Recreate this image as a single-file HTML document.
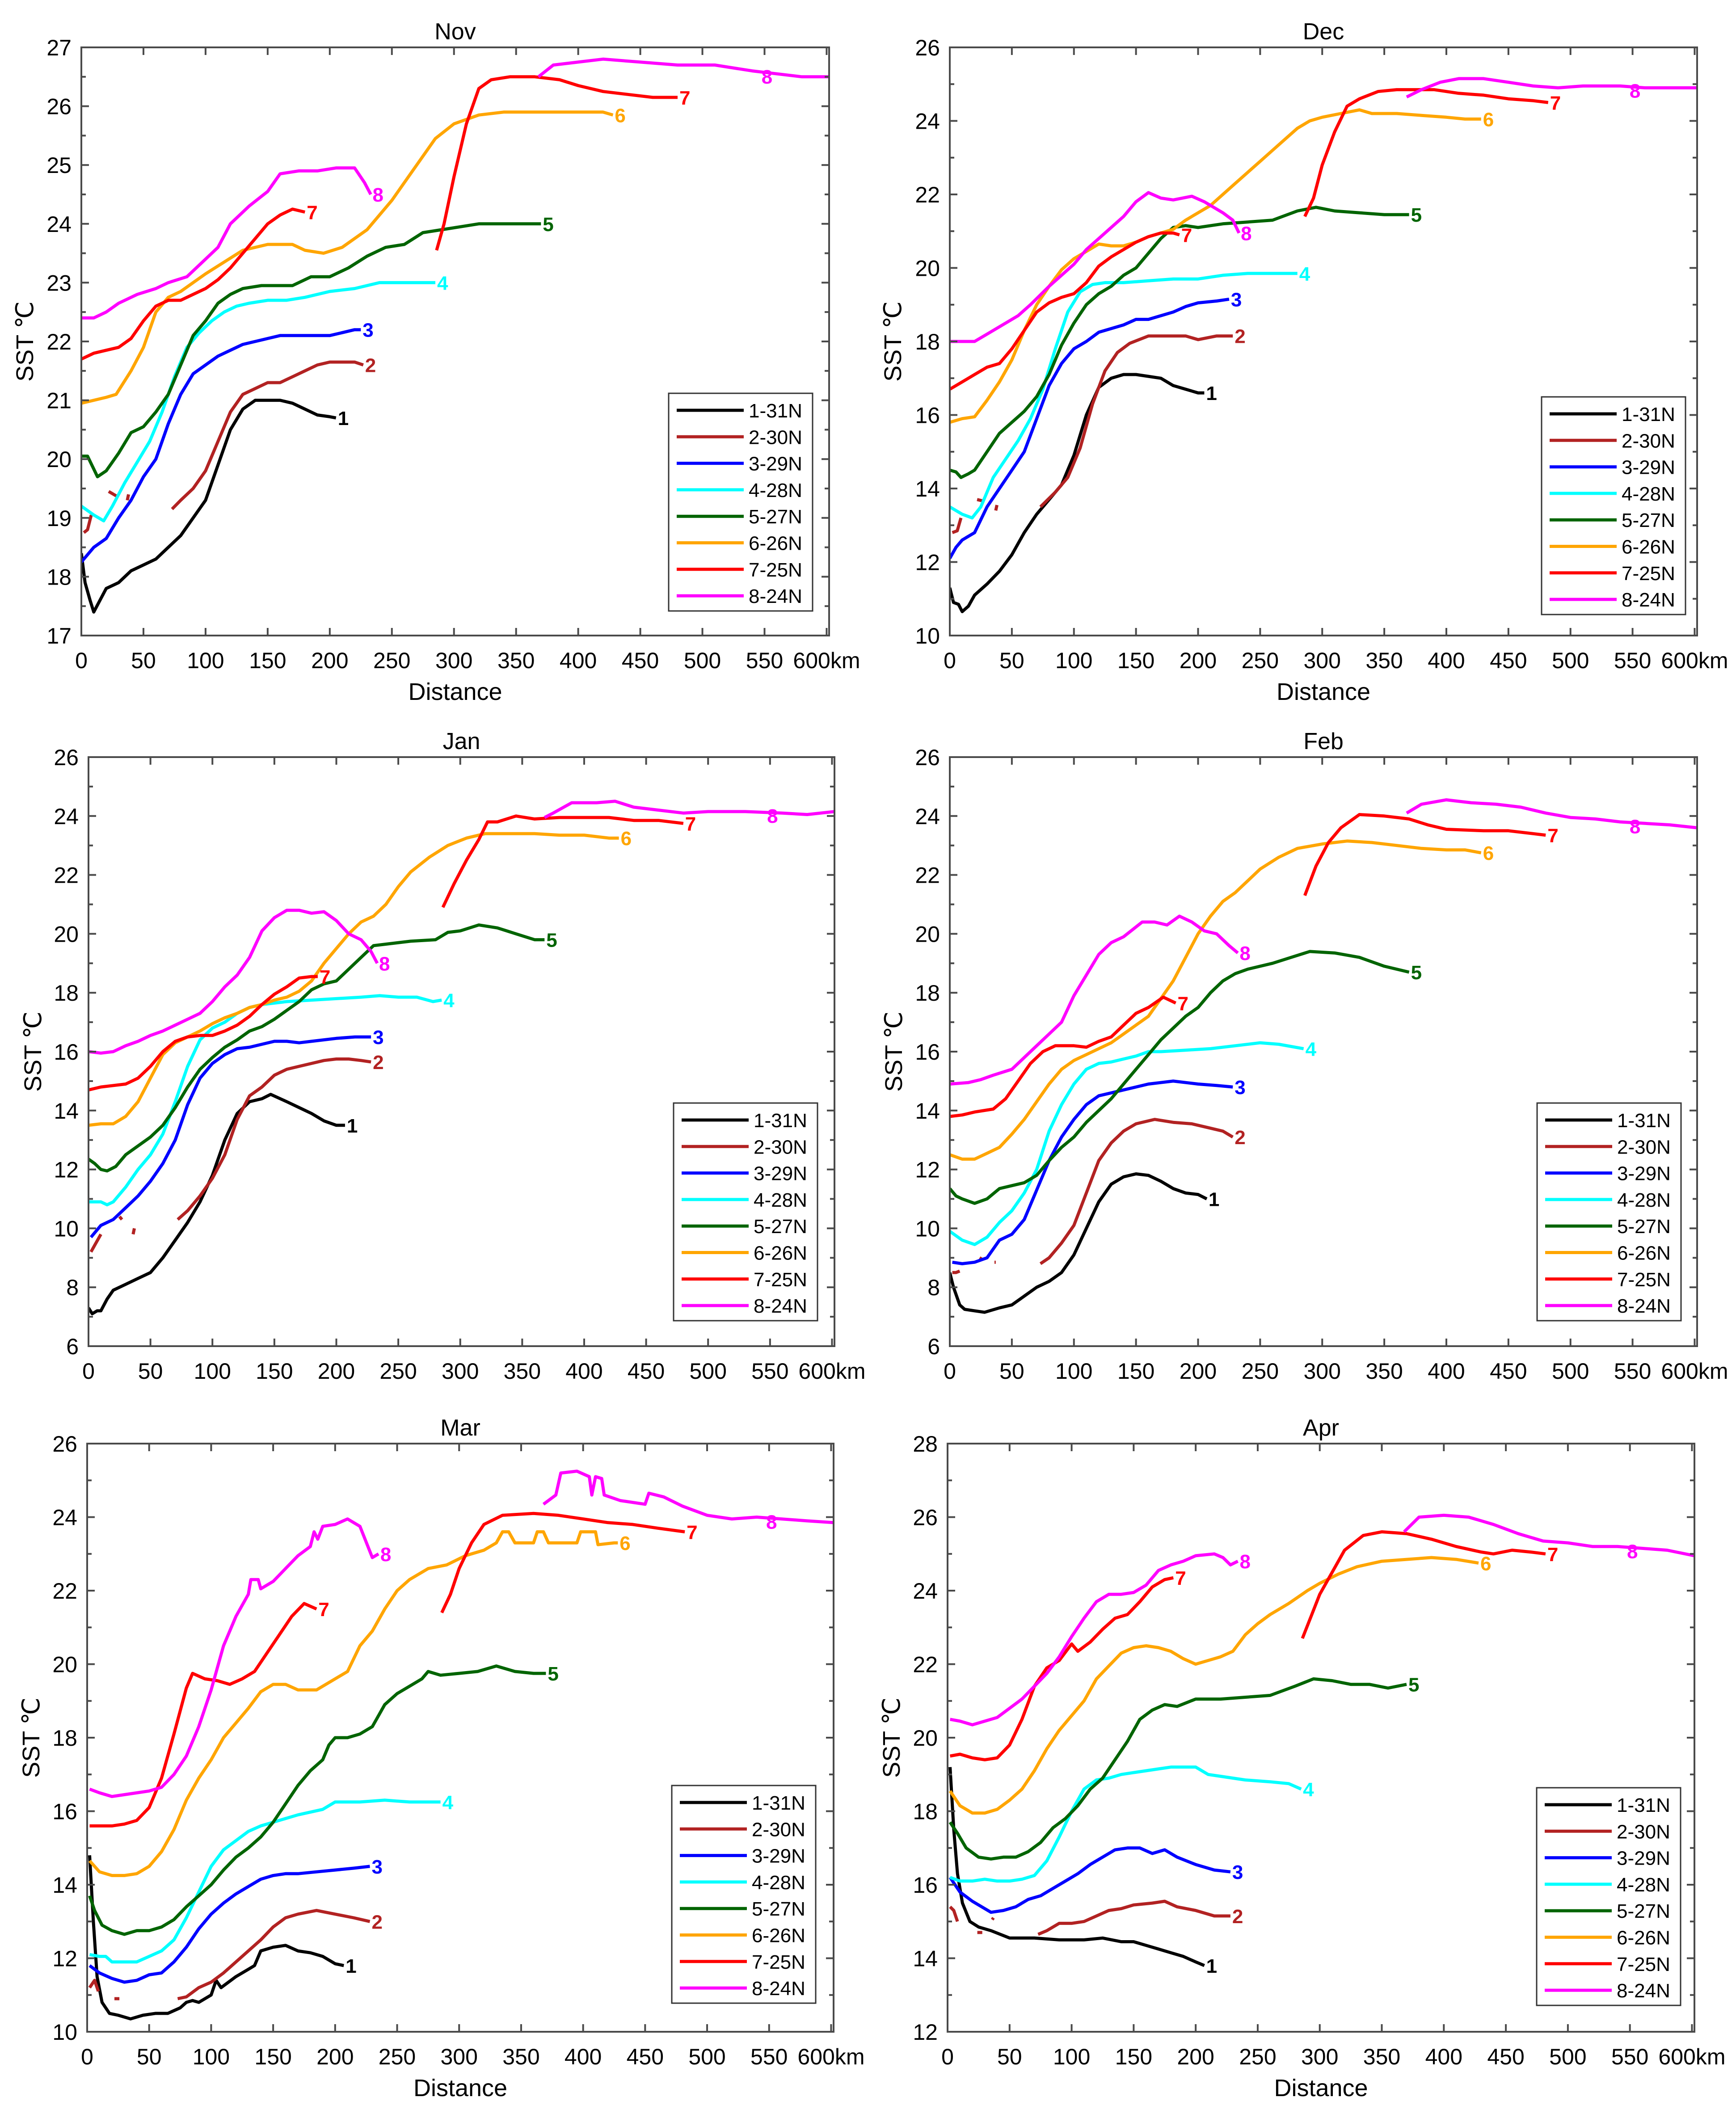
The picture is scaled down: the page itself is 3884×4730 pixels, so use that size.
<!DOCTYPE html>
<html>
<head>
<meta charset="utf-8">
<style>
html,body{margin:0;padding:0;background:#fff;}
svg{display:block;}
text{font-family:"Liberation Sans",Arial,sans-serif;}
</style>
</head>
<body>
<svg id="fig" xmlns="http://www.w3.org/2000/svg" width="3884" height="4730" viewBox="0 0 3884 4730"></svg>
<script>
// ---------- data (distance km, SST degC); null = gap ----------
const novS1=[[0,18.4],[3,17.9],[7,17.6],[10,17.4],[15,17.6],[20,17.8],[30,17.9],[40,18.1],[50,18.2],[60,18.3],[70,18.5],[80,18.7],[90,19.0],[100,19.3],[110,19.9],[120,20.5],[130,20.85],[140,21.0],[150,21.0],[160,21.0],[170,20.95],[180,20.85],[190,20.75],[200,20.72],[205,20.7]];
const novS2=[[2,18.75],[5,18.8],[8,19.05],null,[22,19.45],[30,19.35],null,[37,19.3],[38,19.4],null,[73,19.15],[80,19.3],[90,19.5],[100,19.8],[110,20.3],[120,20.8],[130,21.1],[140,21.2],[150,21.3],[160,21.3],[170,21.4],[180,21.5],[190,21.6],[200,21.65],[210,21.65],[220,21.65],[227,21.6]];
const novS3=[[0,18.25],[10,18.5],[20,18.65],[30,19.0],[40,19.3],[50,19.7],[60,20.0],[70,20.6],[80,21.1],[90,21.45],[100,21.6],[110,21.75],[120,21.85],[130,21.95],[140,22.0],[150,22.05],[160,22.1],[170,22.1],[180,22.1],[200,22.1],[210,22.15],[220,22.2],[225,22.2]];
const novS4=[[0,19.2],[10,19.05],[18,18.95],[25,19.2],[35,19.6],[45,19.95],[55,20.3],[65,20.8],[75,21.4],[85,21.9],[95,22.15],[105,22.35],[115,22.5],[125,22.6],[135,22.65],[150,22.7],[165,22.7],[180,22.75],[200,22.85],[220,22.9],[240,23.0],[260,23.0],[280,23.0],[285,23.0]];
const novS5=[[0,20.05],[5,20.05],[13,19.7],[20,19.8],[30,20.1],[40,20.45],[50,20.55],[60,20.8],[70,21.1],[80,21.6],[90,22.1],[100,22.35],[110,22.65],[120,22.8],[130,22.9],[145,22.95],[160,22.95],[170,22.95],[185,23.1],[200,23.1],[215,23.25],[230,23.45],[245,23.6],[260,23.65],[275,23.85],[290,23.9],[305,23.95],[320,24.0],[340,24.0],[360,24.0],[370,24.0]];
const novS6=[[0,20.95],[10,21.0],[20,21.05],[28,21.1],[40,21.5],[50,21.9],[60,22.5],[70,22.75],[80,22.85],[90,23.0],[100,23.15],[115,23.35],[130,23.55],[150,23.65],[170,23.65],[180,23.55],[195,23.5],[210,23.6],[230,23.9],[250,24.4],[270,25.0],[285,25.45],[300,25.7],[320,25.85],[340,25.9],[360,25.9],[380,25.9],[400,25.9],[420,25.9],[428,25.85]];
const novS7=[[0,21.7],[10,21.8],[20,21.85],[30,21.9],[40,22.05],[50,22.35],[60,22.6],[70,22.7],[80,22.7],[90,22.8],[100,22.9],[110,23.05],[120,23.25],[130,23.5],[140,23.75],[150,24.0],[160,24.15],[170,24.25],[180,24.2],null,[286,23.55],[292,24.0],[300,24.8],[310,25.7],[320,26.3],[330,26.45],[345,26.5],[365,26.5],[385,26.45],[400,26.35],[420,26.25],[440,26.2],[460,26.15],[480,26.15]];
const novS8=[[0,22.4],[10,22.4],[20,22.5],[30,22.65],[45,22.8],[60,22.9],[70,23.0],[85,23.1],[95,23.3],[110,23.6],[120,24.0],[135,24.3],[150,24.55],[160,24.85],[175,24.9],[190,24.9],[205,24.95],[220,24.95],[228,24.7],[233,24.5],null,[368,26.5],[380,26.7],[400,26.75],[420,26.8],[450,26.75],[480,26.7],[510,26.7],[540,26.6],[560,26.55],[580,26.5],[602,26.5]];

const decS1=[[0,11.3],[3,10.9],[7,10.85],[10,10.65],[15,10.8],[20,11.1],[30,11.4],[40,11.75],[50,12.2],[60,12.8],[70,13.3],[80,13.7],[90,14.1],[100,14.9],[110,16.0],[120,16.75],[130,17.0],[140,17.1],[150,17.1],[160,17.05],[170,17.0],[180,16.8],[190,16.7],[200,16.6],[205,16.6]];
const decS2=[[2,12.8],[6,12.85],[9,13.2],null,[22,13.7],[28,13.65],null,[37,13.4],[38,13.55],null,[73,13.5],[85,13.9],[95,14.3],[105,15.1],[115,16.3],[125,17.2],[135,17.7],[145,17.95],[160,18.15],[175,18.15],[190,18.15],[200,18.05],[215,18.15],[228,18.15]];
const decS3=[[0,12.1],[5,12.4],[10,12.6],[20,12.8],[30,13.5],[40,14.0],[50,14.5],[60,15.0],[70,15.9],[80,16.8],[90,17.4],[100,17.8],[110,18.0],[120,18.25],[140,18.45],[150,18.6],[160,18.6],[170,18.7],[180,18.8],[190,18.95],[200,19.05],[215,19.1],[225,19.15]];
const decS4=[[0,13.5],[10,13.3],[18,13.2],[25,13.5],[35,14.3],[45,14.8],[55,15.3],[65,15.9],[75,16.7],[85,17.8],[95,18.8],[105,19.35],[115,19.55],[125,19.6],[140,19.6],[160,19.65],[180,19.7],[200,19.7],[220,19.8],[240,19.85],[260,19.85],[280,19.85]];
const decS5=[[0,14.5],[5,14.45],[9,14.3],[15,14.4],[20,14.5],[30,15.0],[40,15.5],[50,15.8],[60,16.1],[70,16.5],[80,17.1],[90,17.9],[100,18.5],[110,19.0],[120,19.3],[130,19.5],[140,19.8],[150,20.0],[160,20.4],[170,20.8],[180,21.1],[190,21.15],[200,21.1],[220,21.2],[240,21.25],[260,21.3],[280,21.55],[295,21.65],[310,21.55],[330,21.5],[350,21.45],[370,21.45]];
const decS6=[[0,15.8],[10,15.9],[20,15.95],[30,16.4],[40,16.9],[50,17.5],[60,18.3],[70,19.0],[80,19.5],[90,19.95],[100,20.25],[110,20.45],[120,20.65],[130,20.6],[140,20.6],[150,20.7],[160,20.85],[170,20.95],[180,21.05],[190,21.3],[200,21.5],[210,21.7],[220,22.0],[230,22.3],[240,22.6],[250,22.9],[260,23.2],[270,23.5],[280,23.8],[290,24.0],[300,24.1],[315,24.2],[330,24.3],[340,24.2],[360,24.2],[380,24.15],[400,24.1],[415,24.05],[428,24.05]];
const decS7=[[0,16.7],[10,16.9],[20,17.1],[30,17.3],[40,17.4],[50,17.8],[60,18.3],[70,18.8],[80,19.05],[90,19.2],[100,19.3],[110,19.6],[120,20.05],[130,20.3],[140,20.5],[150,20.7],[160,20.85],[170,20.95],[180,20.95],[185,20.9],null,[286,21.4],[293,21.9],[300,22.8],[310,23.7],[320,24.4],[330,24.6],[345,24.8],[360,24.85],[375,24.85],[390,24.85],[410,24.75],[430,24.7],[450,24.6],[470,24.55],[482,24.5]];
const decS8=[[0,18.0],[10,18.0],[20,18.0],[30,18.2],[40,18.4],[55,18.7],[65,19.0],[80,19.5],[90,19.8],[100,20.1],[110,20.5],[120,20.8],[130,21.1],[140,21.4],[150,21.8],[160,22.05],[170,21.9],[180,21.85],[195,21.95],[205,21.8],[220,21.5],[228,21.3],[233,20.95],null,[368,24.65],[380,24.85],[395,25.05],[410,25.15],[430,25.15],[450,25.05],[470,24.95],[490,24.9],[510,24.95],[540,24.95],[560,24.9],[580,24.9],[602,24.9]];

const janS1=[[0,7.3],[3,7.1],[7,7.2],[10,7.2],[15,7.6],[20,7.9],[30,8.1],[40,8.3],[50,8.5],[60,9.0],[70,9.6],[80,10.2],[90,10.9],[100,11.8],[110,13.0],[120,13.9],[130,14.3],[140,14.4],[147,14.55],[160,14.3],[170,14.1],[180,13.9],[190,13.65],[200,13.5],[207,13.5]];
const janS2=[[2,9.2],[6,9.5],[10,9.8],null,[25,10.4],[27,10.3],null,[36,9.8],[37,10.0],null,[72,10.3],[80,10.6],[90,11.1],[100,11.7],[110,12.5],[120,13.7],[130,14.5],[140,14.8],[150,15.2],[160,15.4],[170,15.5],[180,15.6],[190,15.7],[200,15.75],[210,15.75],[220,15.7],[228,15.65]];
const janS3=[[2,9.7],[10,10.1],[20,10.3],[30,10.7],[40,11.1],[50,11.6],[60,12.2],[70,13.0],[80,14.2],[90,15.1],[100,15.6],[110,15.9],[120,16.1],[130,16.15],[140,16.25],[150,16.35],[160,16.35],[170,16.3],[180,16.35],[200,16.45],[215,16.5],[228,16.5]];
const janS4=[[0,10.9],[10,10.9],[15,10.8],[20,10.9],[30,11.4],[40,12.0],[50,12.5],[60,13.2],[70,14.3],[80,15.5],[90,16.4],[100,16.8],[110,17.0],[120,17.3],[130,17.5],[140,17.6],[160,17.7],[180,17.75],[200,17.8],[220,17.85],[235,17.9],[250,17.85],[265,17.85],[278,17.7],[285,17.75]];
const janS5=[[0,12.35],[5,12.2],[10,12.0],[15,11.95],[22,12.1],[30,12.5],[40,12.8],[50,13.1],[60,13.5],[70,14.1],[80,14.8],[90,15.4],[100,15.8],[110,16.15],[120,16.4],[130,16.7],[140,16.85],[150,17.1],[160,17.4],[170,17.7],[180,18.1],[190,18.3],[200,18.4],[210,18.8],[220,19.2],[230,19.6],[240,19.65],[260,19.75],[280,19.8],[290,20.05],[300,20.1],[315,20.3],[330,20.2],[345,20.0],[360,19.8],[368,19.8]];
const janS6=[[0,13.5],[10,13.55],[20,13.55],[30,13.8],[40,14.3],[50,15.1],[60,15.9],[70,16.3],[80,16.5],[90,16.7],[100,16.95],[110,17.15],[120,17.3],[130,17.5],[140,17.6],[150,17.75],[160,17.85],[170,18.05],[180,18.4],[190,19.0],[200,19.5],[210,20.0],[220,20.4],[230,20.6],[240,21.0],[250,21.6],[260,22.1],[275,22.6],[290,23.0],[305,23.25],[320,23.4],[340,23.4],[360,23.4],[380,23.35],[400,23.35],[420,23.25],[428,23.25]];
const janS7=[[0,14.7],[10,14.8],[20,14.85],[30,14.9],[40,15.1],[50,15.5],[60,16.0],[70,16.35],[80,16.5],[90,16.55],[100,16.55],[110,16.7],[120,16.9],[130,17.2],[140,17.6],[150,17.95],[160,18.2],[170,18.5],[180,18.55],[185,18.55],null,[286,20.9],[295,21.7],[305,22.5],[315,23.2],[322,23.8],[330,23.8],[345,24.0],[360,23.9],[380,23.95],[400,23.95],[420,23.95],[440,23.85],[460,23.85],[480,23.75]];
const janS8=[[0,16.0],[10,15.95],[20,16.0],[30,16.2],[40,16.35],[50,16.55],[60,16.7],[70,16.9],[80,17.1],[90,17.3],[100,17.7],[110,18.2],[120,18.6],[130,19.2],[140,20.1],[150,20.55],[160,20.8],[170,20.8],[180,20.7],[190,20.75],[200,20.45],[210,20.0],[220,19.8],[228,19.4],[233,19.0],null,[368,23.95],[375,24.1],[390,24.45],[410,24.45],[425,24.5],[440,24.3],[460,24.2],[480,24.1],[500,24.15],[530,24.15],[560,24.1],[580,24.05],[602,24.15]];

const febS1=[[0,8.5],[3,8.0],[8,7.4],[12,7.25],[20,7.2],[28,7.15],[40,7.3],[50,7.4],[60,7.7],[70,8.0],[80,8.2],[90,8.5],[100,9.1],[110,10.0],[120,10.9],[130,11.5],[140,11.75],[150,11.85],[160,11.8],[170,11.6],[180,11.35],[190,11.2],[200,11.15],[207,11.0]];
const febS2=[[2,8.5],[5,8.5],[8,8.55],null,[24,9.0],[26,8.95],null,[36,8.85],[37,8.85],null,[73,8.8],[80,9.0],[90,9.5],[100,10.1],[110,11.2],[120,12.3],[130,12.9],[140,13.3],[150,13.55],[165,13.7],[180,13.6],[195,13.55],[210,13.4],[220,13.3],[228,13.1]];
const febS3=[[2,8.85],[10,8.8],[20,8.85],[30,9.0],[40,9.6],[50,9.8],[60,10.3],[70,11.3],[80,12.3],[90,13.1],[100,13.7],[110,14.2],[120,14.5],[130,14.6],[140,14.7],[150,14.8],[160,14.9],[170,14.95],[180,15.0],[190,14.95],[200,14.9],[215,14.85],[228,14.8]];
const febS4=[[0,9.9],[10,9.6],[20,9.45],[30,9.7],[40,10.2],[50,10.6],[60,11.2],[70,12.0],[80,13.3],[90,14.2],[100,14.9],[110,15.4],[120,15.6],[130,15.65],[140,15.75],[150,15.85],[160,16.0],[170,16.0],[190,16.05],[210,16.1],[230,16.2],[250,16.3],[265,16.25],[285,16.1]];
const febS5=[[0,11.35],[5,11.1],[10,11.0],[20,10.85],[30,11.0],[40,11.35],[50,11.45],[60,11.55],[70,11.8],[80,12.3],[90,12.75],[100,13.1],[110,13.6],[120,14.0],[130,14.4],[140,14.9],[150,15.4],[160,15.9],[170,16.4],[180,16.8],[190,17.2],[200,17.5],[210,18.0],[220,18.4],[230,18.65],[240,18.8],[260,19.0],[275,19.2],[290,19.4],[310,19.35],[330,19.2],[350,18.9],[370,18.7]];
const febS6=[[0,12.5],[10,12.35],[20,12.35],[30,12.55],[40,12.75],[50,13.2],[60,13.7],[70,14.3],[80,14.9],[90,15.4],[100,15.7],[110,15.9],[120,16.1],[130,16.3],[140,16.6],[150,16.9],[160,17.2],[170,17.8],[180,18.4],[190,19.2],[200,20.0],[210,20.6],[220,21.1],[230,21.4],[240,21.8],[250,22.2],[265,22.6],[280,22.9],[300,23.05],[320,23.15],[340,23.1],[360,23.0],[380,22.9],[400,22.85],[415,22.85],[428,22.75]];
const febS7=[[0,13.8],[10,13.85],[20,13.95],[35,14.05],[45,14.4],[55,15.0],[65,15.6],[75,16.0],[85,16.2],[100,16.2],[110,16.15],[120,16.35],[130,16.5],[140,16.9],[150,17.3],[160,17.5],[172,17.85],[182,17.65],null,[286,21.3],[295,22.3],[305,23.1],[315,23.6],[330,24.05],[350,24.0],[370,23.9],[385,23.7],[400,23.55],[430,23.5],[450,23.5],[470,23.4],[480,23.35]];
const febS8=[[0,14.9],[15,14.95],[25,15.05],[35,15.2],[50,15.4],[60,15.8],[70,16.2],[80,16.6],[90,17.0],[100,17.9],[110,18.6],[120,19.3],[130,19.7],[140,19.9],[155,20.4],[165,20.4],[175,20.3],[185,20.6],[195,20.4],[205,20.1],[215,20.0],[225,19.6],[232,19.35],null,[368,24.1],[380,24.4],[400,24.55],[420,24.45],[440,24.4],[460,24.3],[480,24.1],[500,23.95],[520,23.9],[540,23.8],[560,23.75],[580,23.7],[602,23.6]];

const marS1=[[2,14.8],[5,13.0],[8,11.5],[12,10.8],[18,10.5],[25,10.45],[35,10.35],[45,10.45],[55,10.5],[65,10.5],[75,10.65],[80,10.8],[85,10.85],[90,10.8],[100,11.0],[104,11.4],[108,11.2],[120,11.5],[130,11.7],[135,11.8],[140,12.2],[150,12.3],[160,12.35],[170,12.2],[180,12.15],[190,12.05],[200,11.85],[207,11.8]];
const marS2=[[2,11.2],[6,11.4],[9,11.1],null,[22,10.9],[26,10.9],null,[73,10.9],[80,10.95],[90,11.2],[100,11.35],[110,11.6],[120,11.9],[130,12.2],[140,12.5],[150,12.85],[160,13.1],[170,13.2],[185,13.3],[200,13.2],[215,13.1],[228,13.0]];
const marS3=[[2,11.8],[10,11.6],[20,11.45],[30,11.35],[40,11.4],[50,11.55],[60,11.6],[70,11.9],[80,12.3],[90,12.8],[100,13.2],[110,13.5],[120,13.75],[130,13.95],[140,14.15],[150,14.25],[160,14.3],[170,14.3],[185,14.35],[200,14.4],[215,14.45],[228,14.5]];
const marS4=[[2,12.1],[10,12.05],[15,12.05],[20,11.9],[30,11.9],[40,11.9],[50,12.05],[60,12.2],[70,12.5],[80,13.1],[90,13.8],[100,14.5],[110,14.95],[120,15.2],[130,15.45],[140,15.6],[150,15.7],[160,15.8],[170,15.9],[190,16.05],[200,16.25],[220,16.25],[240,16.3],[260,16.25],[285,16.25]];
const marS5=[[2,13.7],[6,13.3],[12,12.9],[20,12.75],[30,12.65],[40,12.75],[50,12.75],[60,12.85],[70,13.05],[80,13.4],[90,13.7],[100,14.0],[110,14.4],[120,14.75],[130,15.0],[140,15.3],[150,15.7],[160,16.2],[170,16.7],[180,17.1],[190,17.4],[195,17.8],[200,18.0],[210,18.0],[220,18.1],[230,18.3],[240,18.9],[250,19.2],[260,19.4],[270,19.6],[275,19.8],[285,19.7],[300,19.75],[315,19.8],[330,19.95],[345,19.8],[360,19.75],[370,19.75]];
const marS6=[[2,14.65],[10,14.35],[20,14.25],[30,14.25],[40,14.3],[50,14.5],[60,14.9],[70,15.5],[80,16.3],[90,16.9],[100,17.4],[110,18.0],[120,18.4],[130,18.8],[140,19.25],[150,19.45],[160,19.45],[170,19.3],[185,19.3],[200,19.6],[210,19.8],[220,20.5],[230,20.9],[240,21.5],[250,22.0],[260,22.3],[275,22.6],[290,22.7],[305,22.95],[320,23.1],[330,23.3],[335,23.6],[340,23.6],[345,23.3],[360,23.3],[363,23.6],[368,23.6],[372,23.3],[395,23.3],[398,23.6],[410,23.6],[412,23.25],[425,23.3],[428,23.3]];
const marS7=[[2,15.6],[10,15.6],[20,15.6],[30,15.65],[40,15.75],[50,16.1],[60,16.9],[70,18.1],[80,19.35],[85,19.75],[95,19.6],[105,19.55],[115,19.45],[125,19.6],[135,19.8],[145,20.3],[155,20.8],[165,21.3],[175,21.65],[185,21.5],null,[286,21.4],[293,21.9],[300,22.6],[310,23.3],[320,23.8],[335,24.05],[360,24.1],[380,24.05],[400,23.95],[420,23.85],[440,23.8],[460,23.7],[482,23.6]];
const marS8=[[2,16.6],[10,16.5],[20,16.4],[30,16.45],[40,16.5],[50,16.55],[60,16.65],[70,17.0],[80,17.5],[90,18.3],[100,19.3],[110,20.5],[120,21.3],[130,21.9],[132,22.3],[138,22.3],[140,22.05],[150,22.25],[160,22.6],[170,22.95],[180,23.2],[183,23.6],[186,23.4],[190,23.75],[200,23.8],[210,23.95],[220,23.75],[230,22.9],[235,23.0],null,[368,24.35],[378,24.6],[382,25.2],[395,25.25],[405,25.1],[407,24.6],[410,25.1],[415,25.05],[417,24.6],[430,24.45],[450,24.35],[453,24.65],[465,24.55],[480,24.3],[500,24.05],[520,23.95],[540,24.0],[560,23.95],[580,23.9],[602,23.85]];

const aprS1=[[2,19.2],[5,17.5],[8,16.3],[12,15.5],[18,15.0],[25,14.85],[35,14.75],[50,14.55],[70,14.55],[90,14.5],[110,14.5],[125,14.55],[140,14.45],[150,14.45],[160,14.35],[170,14.25],[180,14.15],[190,14.05],[200,13.9],[207,13.8]];
const aprS2=[[2,15.4],[5,15.3],[8,15.0],null,[24,14.7],[28,14.7],null,[36,15.05],[37,15.1],null,[73,14.65],[80,14.75],[90,14.95],[100,14.95],[110,15.0],[120,15.15],[130,15.3],[140,15.35],[150,15.45],[165,15.5],[175,15.55],[185,15.4],[200,15.3],[215,15.15],[228,15.15]];
const aprS3=[[2,16.2],[10,15.8],[20,15.55],[30,15.35],[35,15.25],[45,15.3],[55,15.4],[65,15.6],[75,15.7],[85,15.9],[95,16.1],[105,16.3],[115,16.55],[125,16.75],[135,16.95],[145,17.0],[155,17.0],[165,16.85],[175,16.95],[185,16.75],[200,16.55],[215,16.4],[228,16.35]];
const aprS4=[[2,16.2],[10,16.1],[20,16.1],[30,16.15],[40,16.1],[50,16.1],[60,16.15],[70,16.25],[80,16.65],[90,17.3],[100,18.0],[110,18.6],[120,18.85],[130,18.9],[140,19.0],[150,19.05],[160,19.1],[170,19.15],[180,19.2],[200,19.2],[210,19.0],[220,18.95],[240,18.85],[260,18.8],[275,18.75],[285,18.6]];
const aprS5=[[2,17.7],[8,17.4],[15,17.0],[25,16.75],[35,16.7],[45,16.75],[55,16.75],[65,16.9],[75,17.15],[85,17.55],[95,17.8],[105,18.15],[115,18.6],[125,18.9],[135,19.4],[145,19.9],[155,20.5],[165,20.75],[175,20.9],[185,20.85],[200,21.05],[220,21.05],[240,21.1],[260,21.15],[280,21.4],[295,21.6],[310,21.55],[325,21.45],[340,21.45],[355,21.35],[370,21.45]];
const aprS6=[[2,18.55],[10,18.15],[20,17.95],[30,17.95],[40,18.05],[50,18.3],[60,18.6],[70,19.1],[80,19.7],[90,20.2],[100,20.6],[110,21.0],[120,21.6],[130,21.95],[140,22.3],[150,22.45],[160,22.5],[170,22.45],[180,22.35],[190,22.15],[200,22.0],[210,22.1],[220,22.2],[230,22.35],[240,22.8],[250,23.1],[260,23.35],[275,23.65],[290,24.0],[300,24.2],[315,24.45],[330,24.65],[350,24.8],[370,24.85],[390,24.9],[410,24.85],[428,24.75]];
const aprS7=[[2,19.5],[10,19.55],[20,19.45],[30,19.4],[40,19.45],[50,19.8],[60,20.5],[70,21.4],[80,21.9],[90,22.1],[100,22.55],[105,22.35],[115,22.6],[125,22.95],[135,23.25],[145,23.35],[155,23.7],[165,24.1],[175,24.3],[182,24.35],null,[286,22.7],[293,23.3],[300,23.9],[310,24.5],[320,25.1],[335,25.5],[350,25.6],[370,25.55],[390,25.4],[410,25.2],[430,25.05],[440,25.0],[455,25.1],[470,25.05],[482,25.0]];
const aprS8=[[2,20.5],[10,20.45],[20,20.35],[30,20.45],[40,20.55],[50,20.8],[60,21.05],[70,21.4],[80,21.75],[90,22.2],[100,22.75],[110,23.25],[120,23.7],[130,23.9],[140,23.9],[150,23.95],[160,24.15],[170,24.55],[180,24.7],[190,24.8],[200,24.95],[215,25.0],[222,24.9],[228,24.7],[234,24.8],null,[368,25.6],[380,26.0],[400,26.05],[420,26.0],[440,25.8],[460,25.55],[480,25.35],[500,25.3],[520,25.2],[540,25.2],[560,25.15],[580,25.1],[602,24.95]];

const seriesNames=['1-31N','2-30N','3-29N','4-28N','5-27N','6-26N','7-25N','8-24N'];
const seriesColors=['#000000','#b22222','#0000ff','#00ffff','#006400','#ffa500','#ff0000','#ff00ff'];
const xTickValues=[0,50,100,150,200,250,300,350,400,450,500,550,600];
const xTickLabels=['0','50','100','150','200','250','300','350','400','450','500','550','600km'];
const monthTitles=['Nov','Dec','Jan','Feb','Mar','Apr'];

// ---------- layout ----------
const panels=[
 {title:monthTitles[0],box:[182,106,1855,1422],ys:[17,27,1,0.5],leg:[1496,880],ylx:56,dist:true,series:[novS1,novS2,novS3,novS4,novS5,novS6,novS7,novS8]},
 {title:monthTitles[1],box:[2125,106,3797,1422],ys:[10,26,2,1],leg:[3449,888],ylx:1998,dist:true,series:[decS1,decS2,decS3,decS4,decS5,decS6,decS7,decS8]},
 {title:monthTitles[2],box:[198,1694,1867,3012],ys:[6,26,2,1],leg:[1507,2468],ylx:74,dist:false,series:[janS1,janS2,janS3,janS4,janS5,janS6,janS7,janS8]},
 {title:monthTitles[3],box:[2125,1694,3797,3012],ys:[6,26,2,1],leg:[3439,2468],ylx:2000,dist:false,series:[febS1,febS2,febS3,febS4,febS5,febS6,febS7,febS8]},
 {title:monthTitles[4],box:[195,3230,1865,4546],ys:[10,26,2,1],leg:[1503,3995],ylx:70,dist:true,series:[marS1,marS2,marS3,marS4,marS5,marS6,marS7,marS8]},
 {title:monthTitles[5],box:[2120,3230,3791,4546],ys:[12,28,2,1],leg:[3438,4000],ylx:1995,dist:true,series:[aprS1,aprS2,aprS3,aprS4,aprS5,aprS6,aprS7,aprS8]}
];
const XMAX=602;
const NS='http://www.w3.org/2000/svg';
const fig=document.getElementById('fig');
function mk(tag,attrs,parent){const e=document.createElementNS(NS,tag);for(const k in attrs)e.setAttribute(k,attrs[k]);(parent||fig).appendChild(e);return e;}

panels.forEach((p,pi)=>{
  const [x0,y0,x1,y1]=p.box;
  const [ymin,ymax,maj,mnr]=p.ys;
  const sx=v=>x0+v/XMAX*(x1-x0);
  const sy=v=>y1-(v-ymin)/(ymax-ymin)*(y1-y0);
  const g=mk('g',{});
  
  

  // title
  const t=mk('text',{x:(x0+x1)/2,y:y0-18,'font-size':52,'text-anchor':'middle',fill:'#000'},g);
  t.textContent=p.title;
  
  

  // series lines (clipped)
  const cid='clip'+pi;
  const cp=mk('clipPath',{id:cid},g);
  mk('rect',{x:x0,y:y0,width:x1-x0,height:y1-y0},cp);
  const lines=mk('g',{'clip-path':'url(#'+cid+')'},g);
  p.series.forEach((arr,si)=>{
    let d='';let pen=false;
    arr.forEach(pt=>{
      if(pt===null){pen=false;return;}
      d+=(pen?'L':'M')+sx(pt[0]).toFixed(1)+' '+sy(pt[1]).toFixed(1)+' ';pen=true;
    });
    const path=mk('path',{d:d,fill:'none',stroke:seriesColors[si],'stroke-width':7,'stroke-linejoin':'round','stroke-linecap':'butt'},lines);
    
    
  });

  // end labels
  p.series.forEach((arr,si)=>{
    const segs=[];let cur=[];
    arr.forEach(pt=>{if(pt===null){if(cur.length)segs.push(cur);cur=[];}else cur.push(pt);});
    if(cur.length)segs.push(cur);
    segs.forEach(seg=>{
      if(seg.length<4)return;
      const last=seg[seg.length-1];
      let lx,ly,anchor;
      if(last[0]>=595){
        let best=seg[0];seg.forEach(q=>{if(Math.abs(q[0]-552)<Math.abs(best[0]-552))best=q;});
        lx=sx(552);ly=sy(best[1])+22;anchor='middle';
      }else{lx=sx(last[0])+4;ly=sy(last[1])+16;anchor='start';}
      const lt=mk('text',{x:lx.toFixed(1),y:ly.toFixed(1),'font-size':44,'font-weight':'bold','text-anchor':anchor,fill:seriesColors[si]},g);
      lt.textContent=String(si+1);
      
      
    });
  });

  // axes box
  const fr=mk('rect',{x:x0,y:y0,width:x1-x0,height:y1-y0,fill:'none',stroke:'#4a4a4a','stroke-width':4},g);
  
  

  // x ticks
  xTickValues.forEach((v,i)=>{
    const X=sx(v);
    mk('line',{x1:X,y1:y1,x2:X,y2:y1-17,stroke:'#4a4a4a','stroke-width':4},g);
    mk('line',{x1:X,y1:y0,x2:X,y2:y0+17,stroke:'#4a4a4a','stroke-width':4},g);
    const tl=mk('text',{x:X,y:y1+73,'font-size':50,'text-anchor':'middle',fill:'#000'},g);
    tl.textContent=xTickLabels[i];
    
    
  });
  // y ticks
  for(let v=ymin;v<=ymax+1e-6;v+=mnr){
    const Y=sy(v);const isMaj=Math.abs(v/maj-Math.round(v/maj))<1e-6;
    const L=isMaj?17:10;
    mk('line',{x1:x0,y1:Y,x2:x0+L,y2:Y,stroke:'#4a4a4a','stroke-width':4},g);
    mk('line',{x1:x1,y1:Y,x2:x1-L,y2:Y,stroke:'#4a4a4a','stroke-width':4},g);
    if(isMaj){
      const yl=mk('text',{x:x0-22,y:Y+18,'font-size':50,'text-anchor':'end',fill:'#000'},g);
      yl.textContent=String(Math.round(v));
      
      
    }
  }
  // y label
  const yc=(y0+y1)/2;
  const ylab=mk('text',{x:p.ylx,y:yc,'font-size':54,'text-anchor':'middle',transform:'rotate(-90 '+p.ylx+' '+yc+')',dy:18,fill:'#000'},g);
  ylab.textContent='SST \u2103';
  
  
  // x label
  if(p.dist){
    const xl=mk('text',{x:(x0+x1)/2,y:y1+144,'font-size':54,'text-anchor':'middle',fill:'#000'},g);
    xl.textContent='Distance';
    
    
  }

  // legend
  const [lx,ly]=p.leg;
  const lg=mk('g',{},g);
  
  
  mk('rect',{x:lx,y:ly,width:322,height:487,fill:'#fff',stroke:'#333','stroke-width':3},lg);
  seriesNames.forEach((nm,si)=>{
    const ey=ly+38+si*59.3;
    const ent=mk('g',{},lg);
    
    
    mk('line',{x1:lx+18,y1:ey,x2:lx+168,y2:ey,stroke:seriesColors[si],'stroke-width':7},ent);
    const tt=mk('text',{x:lx+179,y:ey+16,'font-size':44,fill:'#000'},ent);
    tt.textContent=nm;
  });
});
</script>
</body>
</html>
